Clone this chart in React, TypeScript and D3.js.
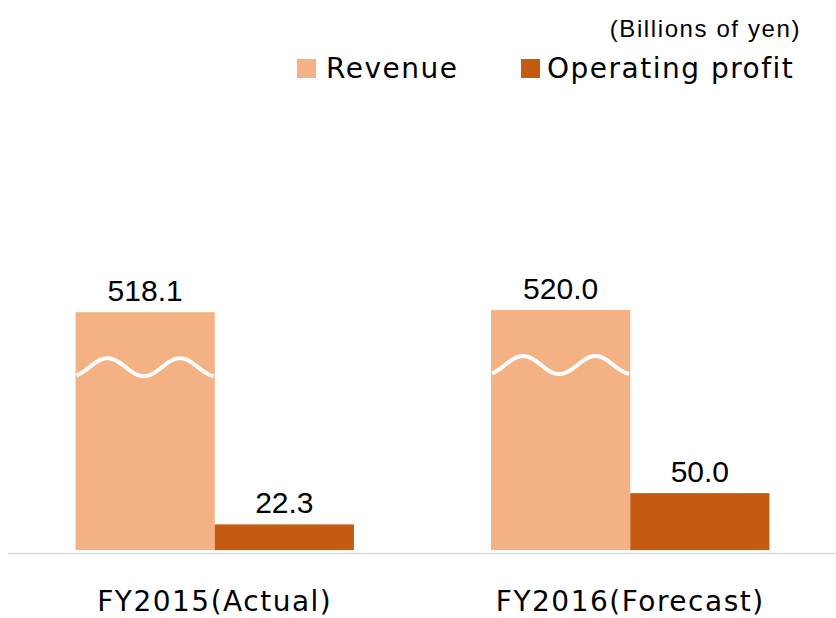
import React from "react";
import * as d3 from "d3";

const categories = ["FY2015(Actual)", "FY2016(Forecast)"];
const seriesNames = ["Revenue", "Operating profit"];
const revenue = [518.1, 520.0];
const operatingProfit = [22.3, 50.0];
const unitLabel = "(Billions of yen)";
// revenue bars are drawn with a broken axis: this amount is cut out of them
const breakOffset = 308;

const W = 836;
const H = 618;
const colors = ["#F4B183", "#C55A11"];
const baseY = 553;

export default function App() {
  const x = d3
    .scaleBand<string>()
    .domain(categories)
    .range([7, 838])
    .paddingInner(0.33)
    .paddingOuter(0.165);
  const inner = d3.scaleBand<string>().domain(seriesNames).range([0, x.bandwidth()]).padding(0);
  const y = d3.scaleLinear().domain([-3, 230]).range([baseY, baseY - 233 * 1.13]);

  const bars = categories.flatMap((c, i) => [
    { c, s: seriesNames[0], v: revenue[i], shown: revenue[i] - breakOffset, broken: true },
    { c, s: seriesNames[1], v: operatingProfit[i], shown: operatingProfit[i], broken: false },
  ]);

  const wave = (x0: number, w: number, cy: number) => {
    const period = w * 0.52;
    const amp = 9;
    const pts: [number, number][] = [];
    const peak = x0 + w * 0.23;
    for (let xx = x0 + 1; xx <= x0 + w - 1; xx += 1) {
      pts.push([xx, cy - amp * Math.cos((2 * Math.PI * (xx - peak)) / period)]);
    }
    return d3.line()(pts) || "";
  };

  return (
    <svg
      width={W}
      height={H}
      style={{ position: "absolute", left: 0, top: 0, background: "#fff" }}
    >
      {bars.map((b, i) => {
        const bx = (x(b.c) ?? 0) + (inner(b.s) ?? 0);
        const bw = inner.bandwidth();
        const top = y(b.shown);
        const fill = b.broken ? colors[0] : colors[1];
        return (
          <g key={i}>
            <rect x={bx} y={top} width={bw} height={y(0) - top + 0.5} fill={fill} />
            {b.broken && (
              <path d={wave(bx, bw, top + 55)} fill="none" stroke="#fff" strokeWidth={4} />
            )}
            <text
              x={bx + bw / 2}
              y={top - 11}
              textAnchor="middle"
              fontFamily="'Liberation Sans', Arial, sans-serif"
              fontSize={30}
              fill="#000"
            >
              {b.v.toFixed(1)}
            </text>
          </g>
        );
      })}
      <line x1={8} x2={W} y1={baseY + 0.5} y2={baseY + 0.5} stroke="#D9D9D9" strokeWidth={1.5} />
      {categories.map((c) => (
        <text
          key={c}
          x={(x(c) ?? 0) + x.bandwidth() / 2}
          y={611}
          textAnchor="middle"
          fontFamily="'DejaVu Sans', Verdana, sans-serif"
          fontSize={28}
          letterSpacing={1.5}
          fill="#000"
        >
          {c}
        </text>
      ))}
      <text
        x={801}
        y={37}
        textAnchor="end"
        fontFamily="'Liberation Sans', Arial, sans-serif"
        fontSize={24}
        letterSpacing={1.6}
        fill="#000"
      >
        {unitLabel}
      </text>
      {seriesNames.map((s, i) => {
        const sx = [297, 521][i];
        const tx = [326, 547][i];
        return (
          <g key={s}>
            <rect x={sx} y={59} width={19} height={19} fill={colors[i]} />
            <text
              x={tx}
              y={78}
              fontFamily="'DejaVu Sans', Verdana, sans-serif"
              fontSize={28}
              letterSpacing={1.5}
              fill="#000"
            >
              {s}
            </text>
          </g>
        );
      })}
    </svg>
  );
}
